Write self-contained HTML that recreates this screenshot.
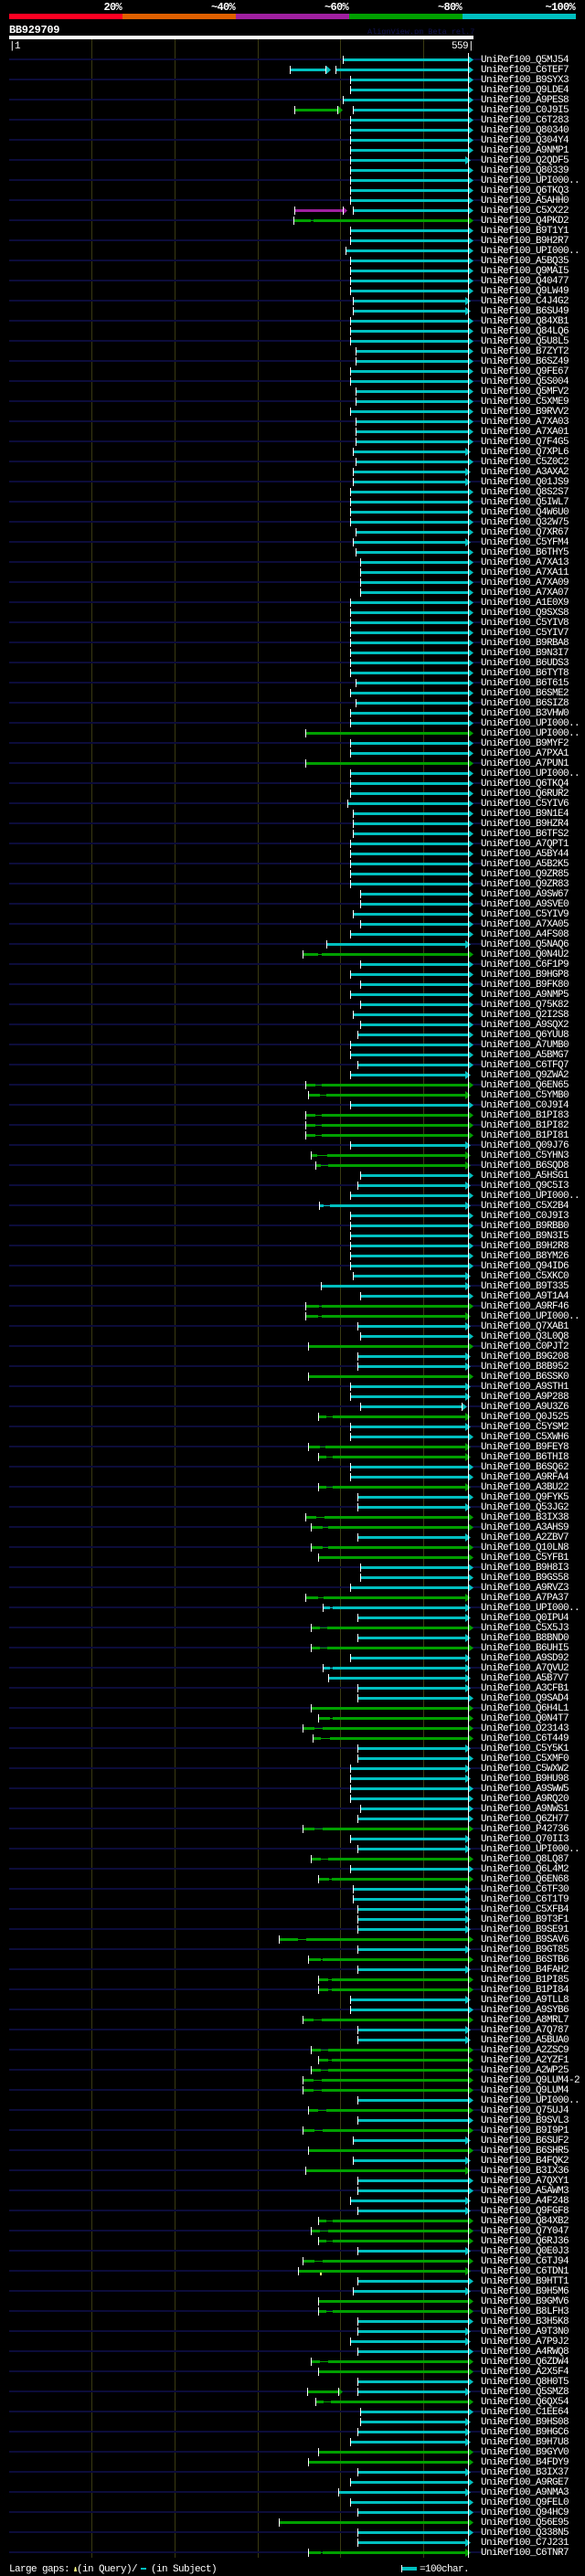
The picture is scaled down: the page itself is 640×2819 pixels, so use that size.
<!DOCTYPE html>
<html><head><meta charset="utf-8">
<style>
html,body{margin:0;padding:0;background:#000;width:640px;height:2819px;overflow:hidden}
#bg,#fg{position:absolute;left:0;top:0}
#rows{position:absolute;left:0;top:60px;width:640px}
#rows svg{display:block;width:640px;height:11px;overflow:visible}
text{font-family:"Liberation Mono","DejaVu Sans Mono",monospace;fill:#fff}
#rows text,.s{font-size:11px;letter-spacing:-0.6px}
path{fill:none}
.c{stroke:#00c0c0;stroke-width:3}
.g{stroke:#00a000;stroke-width:3}
.p{stroke:#a020a0;stroke-width:3}
.c1{stroke:#00c0c0;stroke-width:1}
.g1{stroke:#00a000;stroke-width:1}
.b{font-size:12px;font-weight:bold;letter-spacing:-0.7px}
</style></head><body>
<svg width="0" height="0" style="position:absolute;left:0;top:0"><defs>
<rect id="n" x="10" y="4" width="517" height="2" fill="#0c0c3a"/>
<rect id="t" x="0" y="1" width="1" height="9" fill="#fff"/>
<polygon id="a" points="512,1 518,5.5 512,10" fill="#00c0c0"/>
<polygon id="as" points="509,1 515,5.5 509,10" fill="#00c0c0"/>
<polygon id="b" points="512,1 518,5.5 512,10" fill="#00a000"/>
<polygon id="bs" points="509,1 515,5.5 509,10" fill="#00a000"/>
</defs></svg>

<svg id="bg" width="640" height="2819">
<text class="b" x="133" y="11" text-anchor="end">20%</text>
<text class="b" x="257" y="11" text-anchor="end">~40%</text>
<text class="b" x="381" y="11" text-anchor="end">~60%</text>
<text class="b" x="505" y="11" text-anchor="end">~80%</text>
<text class="b" x="629" y="11" text-anchor="end">~100%</text>
<rect x="10" y="15" width="124" height="6" fill="#ff0022"/>
<rect x="134" y="15" width="124" height="6" fill="#e06000"/>
<rect x="258" y="15" width="124" height="6" fill="#a020a0"/>
<rect x="382" y="15" width="124" height="6" fill="#00a000"/>
<rect x="506" y="15" width="124" height="6" fill="#00c0c0"/>
<text x="10" y="36" style="font-size:12px;font-weight:bold;letter-spacing:-0.3px">BB929709</text>
<text x="402" y="37" style="font-size:8.5px;fill:#121250">AlignView.pm Beta rel.7</text>
<rect x="10" y="39" width="508" height="4" fill="#fff"/>
<text class="s" x="10" y="53">|1</text>
<text class="s" x="494" y="53">559|</text>
<g fill="#3a3a12">
<rect x="100" y="43" width="1" height="2756"/>
<rect x="191" y="43" width="1" height="2756"/>
<rect x="282" y="43" width="1" height="2756"/>
<rect x="372" y="43" width="1" height="2756"/>
<rect x="463" y="43" width="1" height="2756"/>
</g>
<text class="s" x="10" y="2814">Large gaps:</text>
<polygon points="81,2814 82,2809 83,2809 84,2814" fill="#ffff80"/>
<text class="s" x="84" y="2814">(in Query)/</text>
<rect x="154" y="2810" width="6" height="2" fill="#00c0c0"/>
<text class="s" x="165" y="2814">(in Subject)</text>
<rect x="439" y="2809" width="17" height="4" fill="#00c0c0"/>
<rect x="439" y="2807" width="1" height="8" fill="#fff"/>
<text class="s" x="459" y="2814">=100char.</text>
</svg>

<div id="rows">
<svg><use href="#n"/><path class="c" d="M375 5.5H513"/><use href="#t" x="375"/><use href="#a"/><text x="526" y="8">UniRef100_Q5MJ54</text></svg>
<svg><path class="c" d="M317 5.5H357M367 5.5H513"/><polygon points="357,1 362,5.5 357,10" fill="#00c0c0"/><use href="#t" x="317"/><use href="#t" x="356"/><use href="#t" x="367"/><use href="#a"/><text x="526" y="8">UniRef100_C6TEF7</text></svg>
<svg><use href="#n"/><path class="c" d="M383 5.5H513"/><use href="#t" x="383"/><use href="#a"/><text x="526" y="8">UniRef100_B9SYX3</text></svg>
<svg><path class="c" d="M383 5.5H513"/><use href="#t" x="383"/><use href="#a"/><text x="526" y="8">UniRef100_Q9LDE4</text></svg>
<svg><use href="#n"/><path class="c" d="M375 5.5H513"/><use href="#t" x="375"/><use href="#a"/><text x="526" y="8">UniRef100_A9PES8</text></svg>
<svg><path class="g" d="M322 5.5H370"/><path class="c" d="M386 5.5H513"/><polygon points="370,1 375,5.5 370,10" fill="#00a000"/><use href="#t" x="322"/><use href="#t" x="369"/><use href="#t" x="386"/><use href="#a"/><text x="526" y="8">UniRef100_C0J9I5</text></svg>
<svg><use href="#n"/><path class="c" d="M383 5.5H513"/><use href="#t" x="383"/><use href="#a"/><text x="526" y="8">UniRef100_C6T283</text></svg>
<svg><path class="c" d="M383 5.5H513"/><use href="#t" x="383"/><use href="#a"/><text x="526" y="8">UniRef100_Q80340</text></svg>
<svg><use href="#n"/><path class="c" d="M383 5.5H513"/><use href="#t" x="383"/><use href="#a"/><text x="526" y="8">UniRef100_Q304Y4</text></svg>
<svg><path class="c" d="M383 5.5H513"/><use href="#t" x="383"/><use href="#a"/><text x="526" y="8">UniRef100_A9NMP1</text></svg>
<svg><use href="#n"/><path class="c" d="M383 5.5H510"/><use href="#t" x="383"/><use href="#as"/><text x="526" y="8">UniRef100_Q2QDF5</text></svg>
<svg><path class="c" d="M383 5.5H513"/><use href="#t" x="383"/><use href="#a"/><text x="526" y="8">UniRef100_Q80339</text></svg>
<svg><use href="#n"/><path class="c" d="M383 5.5H513"/><use href="#t" x="383"/><use href="#a"/><text x="526" y="8">UniRef100_UPI000..</text></svg>
<svg><path class="c" d="M383 5.5H513"/><use href="#t" x="383"/><use href="#a"/><text x="526" y="8">UniRef100_Q6TKQ3</text></svg>
<svg><use href="#n"/><path class="c" d="M383 5.5H513"/><use href="#t" x="383"/><use href="#a"/><text x="526" y="8">UniRef100_A5AHH0</text></svg>
<svg><path class="p" d="M322 5.5H375"/><path class="c" d="M386 5.5H513"/><polygon points="375,1 380,5.5 375,10" fill="#a020a0"/><use href="#t" x="322"/><use href="#t" x="375"/><use href="#t" x="386"/><use href="#a"/><text x="526" y="8">UniRef100_C5XX22</text></svg>
<svg><use href="#n"/><path class="g" d="M321 5.5H340M343 5.5H513"/><path class="g1" d="M340 5.5H343"/><use href="#t" x="321"/><use href="#b"/><text x="526" y="8">UniRef100_Q4PKD2</text></svg>
<svg><path class="c" d="M383 5.5H513"/><use href="#t" x="383"/><use href="#a"/><text x="526" y="8">UniRef100_B9T1Y1</text></svg>
<svg><use href="#n"/><path class="c" d="M383 5.5H513"/><use href="#t" x="383"/><use href="#a"/><text x="526" y="8">UniRef100_B9H2R7</text></svg>
<svg><path class="c" d="M378 5.5H513"/><use href="#t" x="378"/><use href="#a"/><text x="526" y="8">UniRef100_UPI000..</text></svg>
<svg><use href="#n"/><path class="c" d="M383 5.5H513"/><use href="#t" x="383"/><use href="#a"/><text x="526" y="8">UniRef100_A5BQ35</text></svg>
<svg><path class="c" d="M383 5.5H513"/><use href="#t" x="383"/><use href="#a"/><text x="526" y="8">UniRef100_Q9MAI5</text></svg>
<svg><use href="#n"/><path class="c" d="M383 5.5H513"/><use href="#t" x="383"/><use href="#a"/><text x="526" y="8">UniRef100_Q40477</text></svg>
<svg><path class="c" d="M383 5.5H513"/><use href="#t" x="383"/><use href="#a"/><text x="526" y="8">UniRef100_Q9LW49</text></svg>
<svg><use href="#n"/><path class="c" d="M386 5.5H510"/><use href="#t" x="386"/><use href="#as"/><text x="526" y="8">UniRef100_C4J4G2</text></svg>
<svg><path class="c" d="M386 5.5H510"/><use href="#t" x="386"/><use href="#as"/><text x="526" y="8">UniRef100_B6SU49</text></svg>
<svg><use href="#n"/><path class="c" d="M383 5.5H513"/><use href="#t" x="383"/><use href="#a"/><text x="526" y="8">UniRef100_Q84XB1</text></svg>
<svg><path class="c" d="M383 5.5H513"/><use href="#t" x="383"/><use href="#a"/><text x="526" y="8">UniRef100_Q84LQ6</text></svg>
<svg><use href="#n"/><path class="c" d="M383 5.5H513"/><use href="#t" x="383"/><use href="#a"/><text x="526" y="8">UniRef100_Q5U8L5</text></svg>
<svg><path class="c" d="M389 5.5H513"/><use href="#t" x="389"/><use href="#a"/><text x="526" y="8">UniRef100_B7ZYT2</text></svg>
<svg><use href="#n"/><path class="c" d="M389 5.5H513"/><use href="#t" x="389"/><use href="#a"/><text x="526" y="8">UniRef100_B6SZ49</text></svg>
<svg><path class="c" d="M383 5.5H513"/><use href="#t" x="383"/><use href="#a"/><text x="526" y="8">UniRef100_Q9FE67</text></svg>
<svg><use href="#n"/><path class="c" d="M383 5.5H513"/><use href="#t" x="383"/><use href="#a"/><text x="526" y="8">UniRef100_Q5S004</text></svg>
<svg><path class="c" d="M389 5.5H513"/><use href="#t" x="389"/><use href="#a"/><text x="526" y="8">UniRef100_Q5MFV2</text></svg>
<svg><use href="#n"/><path class="c" d="M389 5.5H513"/><use href="#t" x="389"/><use href="#a"/><text x="526" y="8">UniRef100_C5XME9</text></svg>
<svg><path class="c" d="M383 5.5H513"/><use href="#t" x="383"/><use href="#a"/><text x="526" y="8">UniRef100_B9RVV2</text></svg>
<svg><use href="#n"/><path class="c" d="M389 5.5H513"/><use href="#t" x="389"/><use href="#a"/><text x="526" y="8">UniRef100_A7XA03</text></svg>
<svg><path class="c" d="M389 5.5H513"/><use href="#t" x="389"/><use href="#a"/><text x="526" y="8">UniRef100_A7XA01</text></svg>
<svg><use href="#n"/><path class="c" d="M389 5.5H513"/><use href="#t" x="389"/><use href="#a"/><text x="526" y="8">UniRef100_Q7F4G5</text></svg>
<svg><path class="c" d="M386 5.5H510"/><use href="#t" x="386"/><use href="#as"/><text x="526" y="8">UniRef100_Q7XPL6</text></svg>
<svg><use href="#n"/><path class="c" d="M389 5.5H513"/><use href="#t" x="389"/><use href="#a"/><text x="526" y="8">UniRef100_C5Z0C2</text></svg>
<svg><path class="c" d="M386 5.5H510"/><use href="#t" x="386"/><use href="#as"/><text x="526" y="8">UniRef100_A3AXA2</text></svg>
<svg><use href="#n"/><path class="c" d="M386 5.5H510"/><use href="#t" x="386"/><use href="#as"/><text x="526" y="8">UniRef100_Q01JS9</text></svg>
<svg><path class="c" d="M383 5.5H513"/><use href="#t" x="383"/><use href="#a"/><text x="526" y="8">UniRef100_Q8S2S7</text></svg>
<svg><use href="#n"/><path class="c" d="M383 5.5H513"/><use href="#t" x="383"/><use href="#a"/><text x="526" y="8">UniRef100_Q5IWL7</text></svg>
<svg><path class="c" d="M383 5.5H513"/><use href="#t" x="383"/><use href="#a"/><text x="526" y="8">UniRef100_Q4W6U0</text></svg>
<svg><use href="#n"/><path class="c" d="M383 5.5H513"/><use href="#t" x="383"/><use href="#a"/><text x="526" y="8">UniRef100_Q32W75</text></svg>
<svg><path class="c" d="M389 5.5H513"/><use href="#t" x="389"/><use href="#a"/><text x="526" y="8">UniRef100_Q7XR67</text></svg>
<svg><use href="#n"/><path class="c" d="M386 5.5H510"/><use href="#t" x="386"/><use href="#as"/><text x="526" y="8">UniRef100_C5YFM4</text></svg>
<svg><path class="c" d="M389 5.5H513"/><use href="#t" x="389"/><use href="#a"/><text x="526" y="8">UniRef100_B6THY5</text></svg>
<svg><use href="#n"/><path class="c" d="M394 5.5H513"/><use href="#t" x="394"/><use href="#a"/><text x="526" y="8">UniRef100_A7XA13</text></svg>
<svg><path class="c" d="M394 5.5H513"/><use href="#t" x="394"/><use href="#a"/><text x="526" y="8">UniRef100_A7XA11</text></svg>
<svg><use href="#n"/><path class="c" d="M394 5.5H513"/><use href="#t" x="394"/><use href="#a"/><text x="526" y="8">UniRef100_A7XA09</text></svg>
<svg><path class="c" d="M394 5.5H513"/><use href="#t" x="394"/><use href="#a"/><text x="526" y="8">UniRef100_A7XA07</text></svg>
<svg><use href="#n"/><path class="c" d="M383 5.5H513"/><use href="#t" x="383"/><use href="#a"/><text x="526" y="8">UniRef100_A1E0X9</text></svg>
<svg><path class="c" d="M383 5.5H513"/><use href="#t" x="383"/><use href="#a"/><text x="526" y="8">UniRef100_Q9SXS8</text></svg>
<svg><use href="#n"/><path class="c" d="M383 5.5H513"/><use href="#t" x="383"/><use href="#a"/><text x="526" y="8">UniRef100_C5YIV8</text></svg>
<svg><path class="c" d="M383 5.5H513"/><use href="#t" x="383"/><use href="#a"/><text x="526" y="8">UniRef100_C5YIV7</text></svg>
<svg><use href="#n"/><path class="c" d="M383 5.5H513"/><use href="#t" x="383"/><use href="#a"/><text x="526" y="8">UniRef100_B9RBA8</text></svg>
<svg><path class="c" d="M383 5.5H513"/><use href="#t" x="383"/><use href="#a"/><text x="526" y="8">UniRef100_B9N3I7</text></svg>
<svg><use href="#n"/><path class="c" d="M383 5.5H513"/><use href="#t" x="383"/><use href="#a"/><text x="526" y="8">UniRef100_B6UDS3</text></svg>
<svg><path class="c" d="M383 5.5H513"/><use href="#t" x="383"/><use href="#a"/><text x="526" y="8">UniRef100_B6TYT8</text></svg>
<svg><use href="#n"/><path class="c" d="M389 5.5H513"/><use href="#t" x="389"/><use href="#a"/><text x="526" y="8">UniRef100_B6T615</text></svg>
<svg><path class="c" d="M383 5.5H513"/><use href="#t" x="383"/><use href="#a"/><text x="526" y="8">UniRef100_B6SME2</text></svg>
<svg><use href="#n"/><path class="c" d="M389 5.5H513"/><use href="#t" x="389"/><use href="#a"/><text x="526" y="8">UniRef100_B6SIZ8</text></svg>
<svg><path class="c" d="M383 5.5H513"/><use href="#t" x="383"/><use href="#a"/><text x="526" y="8">UniRef100_B3VHW0</text></svg>
<svg><use href="#n"/><path class="c" d="M383 5.5H513"/><use href="#t" x="383"/><use href="#a"/><text x="526" y="8">UniRef100_UPI000..</text></svg>
<svg><path class="g" d="M334 5.5H513"/><use href="#t" x="334"/><use href="#b"/><text x="526" y="8">UniRef100_UPI000..</text></svg>
<svg><use href="#n"/><path class="c" d="M383 5.5H513"/><use href="#t" x="383"/><use href="#a"/><text x="526" y="8">UniRef100_B9MYF2</text></svg>
<svg><path class="c" d="M383 5.5H513"/><use href="#t" x="383"/><use href="#a"/><text x="526" y="8">UniRef100_A7PXA1</text></svg>
<svg><use href="#n"/><path class="g" d="M334 5.5H513"/><use href="#t" x="334"/><use href="#b"/><text x="526" y="8">UniRef100_A7PUN1</text></svg>
<svg><path class="c" d="M383 5.5H513"/><use href="#t" x="383"/><use href="#a"/><text x="526" y="8">UniRef100_UPI000..</text></svg>
<svg><use href="#n"/><path class="c" d="M383 5.5H513"/><use href="#t" x="383"/><use href="#a"/><text x="526" y="8">UniRef100_Q6TKQ4</text></svg>
<svg><path class="c" d="M383 5.5H513"/><use href="#t" x="383"/><use href="#a"/><text x="526" y="8">UniRef100_Q6RUR2</text></svg>
<svg><use href="#n"/><path class="c" d="M380 5.5H513"/><use href="#t" x="380"/><use href="#a"/><text x="526" y="8">UniRef100_C5YIV6</text></svg>
<svg><path class="c" d="M386 5.5H513"/><use href="#t" x="386"/><use href="#a"/><text x="526" y="8">UniRef100_B9N1E4</text></svg>
<svg><use href="#n"/><path class="c" d="M386 5.5H513"/><use href="#t" x="386"/><use href="#a"/><text x="526" y="8">UniRef100_B9HZR4</text></svg>
<svg><path class="c" d="M386 5.5H513"/><use href="#t" x="386"/><use href="#a"/><text x="526" y="8">UniRef100_B6TFS2</text></svg>
<svg><use href="#n"/><path class="c" d="M383 5.5H513"/><use href="#t" x="383"/><use href="#a"/><text x="526" y="8">UniRef100_A7QPT1</text></svg>
<svg><path class="c" d="M383 5.5H513"/><use href="#t" x="383"/><use href="#a"/><text x="526" y="8">UniRef100_A5BY44</text></svg>
<svg><use href="#n"/><path class="c" d="M383 5.5H513"/><use href="#t" x="383"/><use href="#a"/><text x="526" y="8">UniRef100_A5B2K5</text></svg>
<svg><path class="c" d="M383 5.5H513"/><use href="#t" x="383"/><use href="#a"/><text x="526" y="8">UniRef100_Q9ZR85</text></svg>
<svg><use href="#n"/><path class="c" d="M383 5.5H513"/><use href="#t" x="383"/><use href="#a"/><text x="526" y="8">UniRef100_Q9ZR83</text></svg>
<svg><path class="c" d="M394 5.5H513"/><use href="#t" x="394"/><use href="#a"/><text x="526" y="8">UniRef100_A9SW67</text></svg>
<svg><use href="#n"/><path class="c" d="M394 5.5H513"/><use href="#t" x="394"/><use href="#a"/><text x="526" y="8">UniRef100_A9SVE0</text></svg>
<svg><path class="c" d="M386 5.5H513"/><use href="#t" x="386"/><use href="#a"/><text x="526" y="8">UniRef100_C5YIV9</text></svg>
<svg><use href="#n"/><path class="c" d="M394 5.5H513"/><use href="#t" x="394"/><use href="#a"/><text x="526" y="8">UniRef100_A7XA05</text></svg>
<svg><path class="c" d="M383 5.5H513"/><use href="#t" x="383"/><use href="#a"/><text x="526" y="8">UniRef100_A4FS08</text></svg>
<svg><use href="#n"/><path class="c" d="M357 5.5H510"/><use href="#t" x="357"/><use href="#as"/><text x="526" y="8">UniRef100_Q5NAQ6</text></svg>
<svg><path class="g" d="M331 5.5H348M352 5.5H513"/><path class="g1" d="M348 5.5H352"/><use href="#t" x="331"/><use href="#b"/><text x="526" y="8">UniRef100_Q0N4U2</text></svg>
<svg><use href="#n"/><path class="c" d="M394 5.5H513"/><use href="#t" x="394"/><use href="#a"/><text x="526" y="8">UniRef100_C6F1P9</text></svg>
<svg><path class="c" d="M383 5.5H513"/><use href="#t" x="383"/><use href="#a"/><text x="526" y="8">UniRef100_B9HGP8</text></svg>
<svg><use href="#n"/><path class="c" d="M394 5.5H513"/><use href="#t" x="394"/><use href="#a"/><text x="526" y="8">UniRef100_B9FK80</text></svg>
<svg><path class="c" d="M383 5.5H513"/><use href="#t" x="383"/><use href="#a"/><text x="526" y="8">UniRef100_A9NMP5</text></svg>
<svg><use href="#n"/><path class="c" d="M394 5.5H513"/><use href="#t" x="394"/><use href="#a"/><text x="526" y="8">UniRef100_Q75K82</text></svg>
<svg><path class="c" d="M386 5.5H513"/><use href="#t" x="386"/><use href="#a"/><text x="526" y="8">UniRef100_Q2I2S8</text></svg>
<svg><use href="#n"/><path class="c" d="M394 5.5H513"/><use href="#t" x="394"/><use href="#a"/><text x="526" y="8">UniRef100_A9SQX2</text></svg>
<svg><path class="c" d="M391 5.5H513"/><use href="#t" x="391"/><use href="#a"/><text x="526" y="8">UniRef100_Q6YUU8</text></svg>
<svg><use href="#n"/><path class="c" d="M383 5.5H513"/><use href="#t" x="383"/><use href="#a"/><text x="526" y="8">UniRef100_A7UMB0</text></svg>
<svg><path class="c" d="M383 5.5H513"/><use href="#t" x="383"/><use href="#a"/><text x="526" y="8">UniRef100_A5BMG7</text></svg>
<svg><use href="#n"/><path class="c" d="M391 5.5H513"/><use href="#t" x="391"/><use href="#a"/><text x="526" y="8">UniRef100_C6TFQ7</text></svg>
<svg><path class="c" d="M383 5.5H510"/><use href="#t" x="383"/><use href="#as"/><text x="526" y="8">UniRef100_Q9ZWA2</text></svg>
<svg><use href="#n"/><path class="g" d="M334 5.5H345M352 5.5H513"/><path class="g1" d="M345 5.5H352"/><use href="#t" x="334"/><use href="#b"/><text x="526" y="8">UniRef100_Q6EN65</text></svg>
<svg><path class="g" d="M337 5.5H350M357 5.5H510"/><path class="g1" d="M350 5.5H357"/><use href="#t" x="337"/><use href="#bs"/><text x="526" y="8">UniRef100_C5YMB0</text></svg>
<svg><use href="#n"/><path class="c" d="M383 5.5H513"/><use href="#t" x="383"/><use href="#a"/><text x="526" y="8">UniRef100_C0J9I4</text></svg>
<svg><path class="g" d="M334 5.5H345M352 5.5H513"/><path class="g1" d="M345 5.5H352"/><use href="#t" x="334"/><use href="#b"/><text x="526" y="8">UniRef100_B1PI83</text></svg>
<svg><use href="#n"/><path class="g" d="M334 5.5H345M352 5.5H513"/><path class="g1" d="M345 5.5H352"/><use href="#t" x="334"/><use href="#b"/><text x="526" y="8">UniRef100_B1PI82</text></svg>
<svg><path class="g" d="M334 5.5H345M352 5.5H513"/><path class="g1" d="M345 5.5H352"/><use href="#t" x="334"/><use href="#b"/><text x="526" y="8">UniRef100_B1PI81</text></svg>
<svg><use href="#n"/><path class="c" d="M383 5.5H510"/><use href="#t" x="383"/><use href="#as"/><text x="526" y="8">UniRef100_Q09J76</text></svg>
<svg><path class="g" d="M340 5.5H347M358 5.5H510"/><path class="g1" d="M347 5.5H358"/><use href="#t" x="340"/><use href="#bs"/><text x="526" y="8">UniRef100_C5YHN3</text></svg>
<svg><use href="#n"/><path class="g" d="M345 5.5H351M359 5.5H510"/><path class="g1" d="M351 5.5H359"/><use href="#t" x="345"/><use href="#bs"/><text x="526" y="8">UniRef100_B6SQD8</text></svg>
<svg><path class="c" d="M394 5.5H513"/><use href="#t" x="394"/><use href="#a"/><text x="526" y="8">UniRef100_A5HSG1</text></svg>
<svg><use href="#n"/><path class="c" d="M391 5.5H510"/><use href="#t" x="391"/><use href="#as"/><text x="526" y="8">UniRef100_Q9C5I3</text></svg>
<svg><path class="c" d="M383 5.5H513"/><use href="#t" x="383"/><use href="#a"/><text x="526" y="8">UniRef100_UPI000..</text></svg>
<svg><use href="#n"/><path class="c" d="M349 5.5H354M361 5.5H510"/><path class="c1" d="M354 5.5H361"/><use href="#t" x="349"/><use href="#as"/><text x="526" y="8">UniRef100_C5X2B4</text></svg>
<svg><path class="c" d="M383 5.5H513"/><use href="#t" x="383"/><use href="#a"/><text x="526" y="8">UniRef100_C0J9I3</text></svg>
<svg><use href="#n"/><path class="c" d="M383 5.5H513"/><use href="#t" x="383"/><use href="#a"/><text x="526" y="8">UniRef100_B9RBB0</text></svg>
<svg><path class="c" d="M383 5.5H513"/><use href="#t" x="383"/><use href="#a"/><text x="526" y="8">UniRef100_B9N3I5</text></svg>
<svg><use href="#n"/><path class="c" d="M383 5.5H513"/><use href="#t" x="383"/><use href="#a"/><text x="526" y="8">UniRef100_B9H2R8</text></svg>
<svg><path class="c" d="M383 5.5H513"/><use href="#t" x="383"/><use href="#a"/><text x="526" y="8">UniRef100_B8YM26</text></svg>
<svg><use href="#n"/><path class="c" d="M383 5.5H513"/><use href="#t" x="383"/><use href="#a"/><text x="526" y="8">UniRef100_Q94ID6</text></svg>
<svg><path class="c" d="M386 5.5H510"/><use href="#t" x="386"/><use href="#as"/><text x="526" y="8">UniRef100_C5XKC0</text></svg>
<svg><use href="#n"/><path class="c" d="M351 5.5H510"/><use href="#t" x="351"/><use href="#as"/><text x="526" y="8">UniRef100_B9T335</text></svg>
<svg><path class="c" d="M394 5.5H513"/><use href="#t" x="394"/><use href="#a"/><text x="526" y="8">UniRef100_A9T1A4</text></svg>
<svg><use href="#n"/><path class="g" d="M334 5.5H349M352 5.5H513"/><path class="g1" d="M349 5.5H352"/><use href="#t" x="334"/><use href="#b"/><text x="526" y="8">UniRef100_A9RF46</text></svg>
<svg><path class="g" d="M334 5.5H348M352 5.5H510"/><path class="g1" d="M348 5.5H352"/><use href="#t" x="334"/><use href="#bs"/><text x="526" y="8">UniRef100_UPI000..</text></svg>
<svg><use href="#n"/><path class="c" d="M391 5.5H510"/><use href="#t" x="391"/><use href="#as"/><text x="526" y="8">UniRef100_Q7XAB1</text></svg>
<svg><path class="c" d="M394 5.5H513"/><use href="#t" x="394"/><use href="#a"/><text x="526" y="8">UniRef100_Q3L0Q8</text></svg>
<svg><use href="#n"/><path class="g" d="M337 5.5H513"/><use href="#t" x="337"/><use href="#b"/><text x="526" y="8">UniRef100_C0PJT2</text></svg>
<svg><path class="c" d="M391 5.5H510"/><use href="#t" x="391"/><use href="#as"/><text x="526" y="8">UniRef100_B9G208</text></svg>
<svg><use href="#n"/><path class="c" d="M391 5.5H510"/><use href="#t" x="391"/><use href="#as"/><text x="526" y="8">UniRef100_B8B952</text></svg>
<svg><path class="g" d="M337 5.5H513"/><use href="#t" x="337"/><use href="#b"/><text x="526" y="8">UniRef100_B6SSK0</text></svg>
<svg><use href="#n"/><path class="c" d="M383 5.5H510"/><use href="#t" x="383"/><use href="#as"/><text x="526" y="8">UniRef100_A9STH1</text></svg>
<svg><path class="c" d="M383 5.5H510"/><use href="#t" x="383"/><use href="#as"/><text x="526" y="8">UniRef100_A9P288</text></svg>
<svg><use href="#n"/><path class="c" d="M394 5.5H505"/><use href="#t" x="394"/><polygon points="505,1 511,5.5 505,10" fill="#00c0c0"/><use href="#t" x="505"/><text x="526" y="8">UniRef100_A9U3Z6</text></svg>
<svg><path class="g" d="M348 5.5H357M364 5.5H510"/><path class="g1" d="M357 5.5H364"/><use href="#t" x="348"/><use href="#bs"/><text x="526" y="8">UniRef100_Q0J525</text></svg>
<svg><use href="#n"/><path class="c" d="M383 5.5H510"/><use href="#t" x="383"/><use href="#as"/><text x="526" y="8">UniRef100_C5YSM2</text></svg>
<svg><path class="c" d="M383 5.5H513"/><use href="#t" x="383"/><use href="#a"/><text x="526" y="8">UniRef100_C5XWH6</text></svg>
<svg><use href="#n"/><path class="g" d="M337 5.5H350M356 5.5H510"/><path class="g1" d="M350 5.5H356"/><use href="#t" x="337"/><use href="#bs"/><text x="526" y="8">UniRef100_B9FEY8</text></svg>
<svg><path class="g" d="M348 5.5H357M364 5.5H510"/><path class="g1" d="M357 5.5H364"/><use href="#t" x="348"/><use href="#bs"/><text x="526" y="8">UniRef100_B6THI8</text></svg>
<svg><use href="#n"/><path class="c" d="M383 5.5H513"/><use href="#t" x="383"/><use href="#a"/><text x="526" y="8">UniRef100_B6SQ62</text></svg>
<svg><path class="c" d="M383 5.5H513"/><use href="#t" x="383"/><use href="#a"/><text x="526" y="8">UniRef100_A9RFA4</text></svg>
<svg><use href="#n"/><path class="g" d="M348 5.5H357M364 5.5H510"/><path class="g1" d="M357 5.5H364"/><use href="#t" x="348"/><use href="#bs"/><text x="526" y="8">UniRef100_A3BU22</text></svg>
<svg><path class="c" d="M391 5.5H513"/><use href="#t" x="391"/><use href="#a"/><text x="526" y="8">UniRef100_Q9FYK5</text></svg>
<svg><use href="#n"/><path class="c" d="M391 5.5H510"/><use href="#t" x="391"/><use href="#as"/><text x="526" y="8">UniRef100_Q53JG2</text></svg>
<svg><path class="g" d="M334 5.5H346M355 5.5H513"/><path class="g1" d="M346 5.5H355"/><use href="#t" x="334"/><use href="#b"/><text x="526" y="8">UniRef100_B3IX38</text></svg>
<svg><use href="#n"/><path class="g" d="M340 5.5H353M359 5.5H513"/><path class="g1" d="M353 5.5H359"/><use href="#t" x="340"/><use href="#b"/><text x="526" y="8">UniRef100_A3AHS9</text></svg>
<svg><path class="c" d="M391 5.5H510"/><use href="#t" x="391"/><use href="#as"/><text x="526" y="8">UniRef100_A2ZBV7</text></svg>
<svg><use href="#n"/><path class="g" d="M340 5.5H353M359 5.5H513"/><path class="g1" d="M353 5.5H359"/><use href="#t" x="340"/><use href="#b"/><text x="526" y="8">UniRef100_Q10LN8</text></svg>
<svg><path class="g" d="M348 5.5H513"/><use href="#t" x="348"/><use href="#b"/><text x="526" y="8">UniRef100_C5YFB1</text></svg>
<svg><use href="#n"/><path class="c" d="M394 5.5H513"/><use href="#t" x="394"/><use href="#a"/><text x="526" y="8">UniRef100_B9H8I3</text></svg>
<svg><path class="c" d="M394 5.5H513"/><use href="#t" x="394"/><use href="#a"/><text x="526" y="8">UniRef100_B9GS58</text></svg>
<svg><use href="#n"/><path class="c" d="M383 5.5H513"/><use href="#t" x="383"/><use href="#a"/><text x="526" y="8">UniRef100_A9RVZ3</text></svg>
<svg><path class="g" d="M334 5.5H348M354 5.5H510"/><path class="g1" d="M348 5.5H354"/><use href="#t" x="334"/><use href="#bs"/><text x="526" y="8">UniRef100_A7PA37</text></svg>
<svg><use href="#n"/><path class="c" d="M353 5.5H361M364 5.5H510"/><path class="c1" d="M361 5.5H364"/><use href="#t" x="353"/><use href="#as"/><text x="526" y="8">UniRef100_UPI000..</text></svg>
<svg><path class="c" d="M391 5.5H510"/><use href="#t" x="391"/><use href="#as"/><text x="526" y="8">UniRef100_Q0IPU4</text></svg>
<svg><use href="#n"/><path class="g" d="M340 5.5H350M358 5.5H513"/><path class="g1" d="M350 5.5H358"/><use href="#t" x="340"/><use href="#b"/><text x="526" y="8">UniRef100_C5X5J3</text></svg>
<svg><path class="c" d="M391 5.5H510"/><use href="#t" x="391"/><use href="#as"/><text x="526" y="8">UniRef100_B8BND0</text></svg>
<svg><use href="#n"/><path class="g" d="M340 5.5H350M358 5.5H513"/><path class="g1" d="M350 5.5H358"/><use href="#t" x="340"/><use href="#b"/><text x="526" y="8">UniRef100_B6UHI5</text></svg>
<svg><path class="c" d="M383 5.5H510"/><use href="#t" x="383"/><use href="#as"/><text x="526" y="8">UniRef100_A9SD92</text></svg>
<svg><use href="#n"/><path class="c" d="M353 5.5H361M364 5.5H510"/><path class="c1" d="M361 5.5H364"/><use href="#t" x="353"/><use href="#as"/><text x="526" y="8">UniRef100_A7QVU2</text></svg>
<svg><path class="c" d="M359 5.5H510"/><use href="#t" x="359"/><use href="#as"/><text x="526" y="8">UniRef100_A5B7V7</text></svg>
<svg><use href="#n"/><path class="c" d="M391 5.5H510"/><use href="#t" x="391"/><use href="#as"/><text x="526" y="8">UniRef100_A3CFB1</text></svg>
<svg><path class="c" d="M391 5.5H513"/><use href="#t" x="391"/><use href="#a"/><text x="526" y="8">UniRef100_Q9SAD4</text></svg>
<svg><use href="#n"/><path class="g" d="M340 5.5H513"/><use href="#t" x="340"/><use href="#b"/><text x="526" y="8">UniRef100_Q6H4L1</text></svg>
<svg><path class="g" d="M348 5.5H361M364 5.5H513"/><path class="g1" d="M361 5.5H364"/><use href="#t" x="348"/><use href="#b"/><text x="526" y="8">UniRef100_Q0N4T7</text></svg>
<svg><use href="#n"/><path class="g" d="M331 5.5H344M353 5.5H513"/><path class="g1" d="M344 5.5H353"/><use href="#t" x="331"/><use href="#b"/><text x="526" y="8">UniRef100_O23143</text></svg>
<svg><path class="g" d="M342 5.5H351M361 5.5H513"/><path class="g1" d="M351 5.5H361"/><use href="#t" x="342"/><use href="#b"/><text x="526" y="8">UniRef100_C6T449</text></svg>
<svg><use href="#n"/><path class="c" d="M391 5.5H510"/><use href="#t" x="391"/><use href="#as"/><text x="526" y="8">UniRef100_C5Y5K1</text></svg>
<svg><path class="c" d="M391 5.5H513"/><use href="#t" x="391"/><use href="#a"/><text x="526" y="8">UniRef100_C5XMF0</text></svg>
<svg><use href="#n"/><path class="c" d="M383 5.5H510"/><use href="#t" x="383"/><use href="#as"/><text x="526" y="8">UniRef100_C5WXW2</text></svg>
<svg><path class="c" d="M383 5.5H510"/><use href="#t" x="383"/><use href="#as"/><text x="526" y="8">UniRef100_B9HU98</text></svg>
<svg><use href="#n"/><path class="c" d="M383 5.5H513"/><use href="#t" x="383"/><use href="#a"/><text x="526" y="8">UniRef100_A9SWW5</text></svg>
<svg><path class="c" d="M383 5.5H513"/><use href="#t" x="383"/><use href="#a"/><text x="526" y="8">UniRef100_A9RQ20</text></svg>
<svg><use href="#n"/><path class="c" d="M394 5.5H513"/><use href="#t" x="394"/><use href="#a"/><text x="526" y="8">UniRef100_A9NWS1</text></svg>
<svg><path class="c" d="M391 5.5H513"/><use href="#t" x="391"/><use href="#a"/><text x="526" y="8">UniRef100_Q6ZH77</text></svg>
<svg><use href="#n"/><path class="g" d="M331 5.5H344M353 5.5H513"/><path class="g1" d="M344 5.5H353"/><use href="#t" x="331"/><use href="#b"/><text x="526" y="8">UniRef100_P42736</text></svg>
<svg><path class="c" d="M383 5.5H510"/><use href="#t" x="383"/><use href="#as"/><text x="526" y="8">UniRef100_Q70II3</text></svg>
<svg><use href="#n"/><path class="c" d="M391 5.5H510"/><use href="#t" x="391"/><use href="#as"/><text x="526" y="8">UniRef100_UPI000..</text></svg>
<svg><path class="g" d="M340 5.5H351M359 5.5H513"/><path class="g1" d="M351 5.5H359"/><use href="#t" x="340"/><use href="#b"/><text x="526" y="8">UniRef100_Q8LQ87</text></svg>
<svg><use href="#n"/><path class="c" d="M383 5.5H513"/><use href="#t" x="383"/><use href="#a"/><text x="526" y="8">UniRef100_Q6L4M2</text></svg>
<svg><path class="g" d="M348 5.5H360M363 5.5H513"/><path class="g1" d="M360 5.5H363"/><use href="#t" x="348"/><use href="#b"/><text x="526" y="8">UniRef100_Q6EN68</text></svg>
<svg><use href="#n"/><path class="c" d="M386 5.5H510"/><use href="#t" x="386"/><use href="#as"/><text x="526" y="8">UniRef100_C6TF30</text></svg>
<svg><path class="c" d="M386 5.5H510"/><use href="#t" x="386"/><use href="#as"/><text x="526" y="8">UniRef100_C6T1T9</text></svg>
<svg><use href="#n"/><path class="c" d="M391 5.5H510"/><use href="#t" x="391"/><use href="#as"/><text x="526" y="8">UniRef100_C5XFB4</text></svg>
<svg><path class="c" d="M391 5.5H510"/><use href="#t" x="391"/><use href="#as"/><text x="526" y="8">UniRef100_B9T3F1</text></svg>
<svg><use href="#n"/><path class="c" d="M391 5.5H510"/><use href="#t" x="391"/><use href="#as"/><text x="526" y="8">UniRef100_B9SE91</text></svg>
<svg><path class="g" d="M305 5.5H326M335 5.5H513"/><path class="g1" d="M326 5.5H335"/><use href="#t" x="305"/><use href="#b"/><text x="526" y="8">UniRef100_B9SAV6</text></svg>
<svg><use href="#n"/><path class="c" d="M391 5.5H510"/><use href="#t" x="391"/><use href="#as"/><text x="526" y="8">UniRef100_B9GT85</text></svg>
<svg><path class="g" d="M337 5.5H351M353 5.5H513"/><path class="g1" d="M351 5.5H353"/><use href="#t" x="337"/><use href="#b"/><text x="526" y="8">UniRef100_B6STB6</text></svg>
<svg><use href="#n"/><path class="c" d="M391 5.5H510"/><use href="#t" x="391"/><use href="#as"/><text x="526" y="8">UniRef100_B4FAH2</text></svg>
<svg><path class="g" d="M348 5.5H359M363 5.5H513"/><path class="g1" d="M359 5.5H363"/><use href="#t" x="348"/><use href="#b"/><text x="526" y="8">UniRef100_B1PI85</text></svg>
<svg><use href="#n"/><path class="g" d="M348 5.5H359M363 5.5H513"/><path class="g1" d="M359 5.5H363"/><use href="#t" x="348"/><use href="#b"/><text x="526" y="8">UniRef100_B1PI84</text></svg>
<svg><path class="c" d="M383 5.5H510"/><use href="#t" x="383"/><use href="#as"/><text x="526" y="8">UniRef100_A9TLL8</text></svg>
<svg><use href="#n"/><path class="c" d="M383 5.5H513"/><use href="#t" x="383"/><use href="#a"/><text x="526" y="8">UniRef100_A9SYB6</text></svg>
<svg><path class="g" d="M331 5.5H343M352 5.5H513"/><path class="g1" d="M343 5.5H352"/><use href="#t" x="331"/><use href="#b"/><text x="526" y="8">UniRef100_A8MRL7</text></svg>
<svg><use href="#n"/><path class="c" d="M391 5.5H510"/><use href="#t" x="391"/><use href="#as"/><text x="526" y="8">UniRef100_A7Q787</text></svg>
<svg><path class="c" d="M391 5.5H510"/><use href="#t" x="391"/><use href="#as"/><text x="526" y="8">UniRef100_A5BUA0</text></svg>
<svg><use href="#n"/><path class="g" d="M340 5.5H351M359 5.5H513"/><path class="g1" d="M351 5.5H359"/><use href="#t" x="340"/><use href="#b"/><text x="526" y="8">UniRef100_A2ZSC9</text></svg>
<svg><path class="g" d="M348 5.5H359M363 5.5H513"/><path class="g1" d="M359 5.5H363"/><use href="#t" x="348"/><use href="#b"/><text x="526" y="8">UniRef100_A2YZF1</text></svg>
<svg><use href="#n"/><path class="g" d="M340 5.5H351M359 5.5H513"/><path class="g1" d="M351 5.5H359"/><use href="#t" x="340"/><use href="#b"/><text x="526" y="8">UniRef100_A2WP25</text></svg>
<svg><path class="g" d="M331 5.5H343M352 5.5H513"/><path class="g1" d="M343 5.5H352"/><use href="#t" x="331"/><use href="#b"/><text x="526" y="8">UniRef100_Q9LUM4-2</text></svg>
<svg><use href="#n"/><path class="g" d="M331 5.5H343M352 5.5H513"/><path class="g1" d="M343 5.5H352"/><use href="#t" x="331"/><use href="#b"/><text x="526" y="8">UniRef100_Q9LUM4</text></svg>
<svg><path class="c" d="M391 5.5H513"/><use href="#t" x="391"/><use href="#a"/><text x="526" y="8">UniRef100_UPI000..</text></svg>
<svg><use href="#n"/><path class="g" d="M337 5.5H348M357 5.5H513"/><path class="g1" d="M348 5.5H357"/><use href="#t" x="337"/><use href="#b"/><text x="526" y="8">UniRef100_Q75UJ4</text></svg>
<svg><path class="c" d="M391 5.5H513"/><use href="#t" x="391"/><use href="#a"/><text x="526" y="8">UniRef100_B9SVL3</text></svg>
<svg><use href="#n"/><path class="g" d="M331 5.5H344M353 5.5H513"/><path class="g1" d="M344 5.5H353"/><use href="#t" x="331"/><use href="#b"/><text x="526" y="8">UniRef100_B9I9P1</text></svg>
<svg><path class="c" d="M386 5.5H510"/><use href="#t" x="386"/><use href="#as"/><text x="526" y="8">UniRef100_B6SUF2</text></svg>
<svg><use href="#n"/><path class="g" d="M337 5.5H513"/><use href="#t" x="337"/><use href="#b"/><text x="526" y="8">UniRef100_B6SHR5</text></svg>
<svg><path class="c" d="M386 5.5H510"/><use href="#t" x="386"/><use href="#as"/><text x="526" y="8">UniRef100_B4FQK2</text></svg>
<svg><use href="#n"/><path class="g" d="M334 5.5H510"/><use href="#t" x="334"/><use href="#bs"/><text x="526" y="8">UniRef100_B3IX36</text></svg>
<svg><path class="c" d="M391 5.5H513"/><use href="#t" x="391"/><use href="#a"/><text x="526" y="8">UniRef100_A7QXY1</text></svg>
<svg><use href="#n"/><path class="c" d="M391 5.5H513"/><use href="#t" x="391"/><use href="#a"/><text x="526" y="8">UniRef100_A5AWM3</text></svg>
<svg><path class="c" d="M383 5.5H510"/><use href="#t" x="383"/><use href="#as"/><text x="526" y="8">UniRef100_A4F248</text></svg>
<svg><use href="#n"/><path class="c" d="M391 5.5H510"/><use href="#t" x="391"/><use href="#as"/><text x="526" y="8">UniRef100_Q9FGF8</text></svg>
<svg><path class="g" d="M348 5.5H357M364 5.5H513"/><path class="g1" d="M357 5.5H364"/><use href="#t" x="348"/><use href="#b"/><text x="526" y="8">UniRef100_Q84XB2</text></svg>
<svg><use href="#n"/><path class="g" d="M340 5.5H350M359 5.5H513"/><path class="g1" d="M350 5.5H359"/><use href="#t" x="340"/><use href="#b"/><text x="526" y="8">UniRef100_Q7Y047</text></svg>
<svg><path class="g" d="M348 5.5H357M364 5.5H513"/><path class="g1" d="M357 5.5H364"/><use href="#t" x="348"/><use href="#b"/><text x="526" y="8">UniRef100_Q6RJ36</text></svg>
<svg><use href="#n"/><path class="c" d="M391 5.5H510"/><use href="#t" x="391"/><use href="#as"/><text x="526" y="8">UniRef100_Q0E0J3</text></svg>
<svg><path class="g" d="M331 5.5H344M353 5.5H513"/><path class="g1" d="M344 5.5H353"/><use href="#t" x="331"/><use href="#b"/><text x="526" y="8">UniRef100_C6TJ94</text></svg>
<svg><use href="#n"/><path class="g" d="M326 5.5H510"/><use href="#t" x="326"/><use href="#bs"/><rect x="350" y="7" width="2" height="3" fill="#ffff80"/><text x="526" y="8">UniRef100_C6TDN1</text></svg>
<svg><path class="c" d="M391 5.5H513"/><use href="#t" x="391"/><use href="#a"/><text x="526" y="8">UniRef100_B9HTT1</text></svg>
<svg><use href="#n"/><path class="c" d="M386 5.5H510"/><use href="#t" x="386"/><use href="#as"/><text x="526" y="8">UniRef100_B9H5M6</text></svg>
<svg><path class="g" d="M348 5.5H513"/><use href="#t" x="348"/><use href="#b"/><text x="526" y="8">UniRef100_B9GMV6</text></svg>
<svg><use href="#n"/><path class="g" d="M348 5.5H357M364 5.5H513"/><path class="g1" d="M357 5.5H364"/><use href="#t" x="348"/><use href="#b"/><text x="526" y="8">UniRef100_B8LFH3</text></svg>
<svg><path class="c" d="M391 5.5H513"/><use href="#t" x="391"/><use href="#a"/><text x="526" y="8">UniRef100_B3H5K8</text></svg>
<svg><use href="#n"/><path class="c" d="M391 5.5H510"/><use href="#t" x="391"/><use href="#as"/><text x="526" y="8">UniRef100_A9T3N0</text></svg>
<svg><path class="c" d="M383 5.5H510"/><use href="#t" x="383"/><use href="#as"/><text x="526" y="8">UniRef100_A7P9J2</text></svg>
<svg><use href="#n"/><path class="c" d="M391 5.5H513"/><use href="#t" x="391"/><use href="#a"/><text x="526" y="8">UniRef100_A4RWQ8</text></svg>
<svg><path class="g" d="M340 5.5H350M359 5.5H513"/><path class="g1" d="M350 5.5H359"/><use href="#t" x="340"/><use href="#b"/><text x="526" y="8">UniRef100_Q6ZDW4</text></svg>
<svg><use href="#n"/><path class="g" d="M348 5.5H513"/><use href="#t" x="348"/><use href="#b"/><text x="526" y="8">UniRef100_A2X5F4</text></svg>
<svg><path class="c" d="M391 5.5H513"/><use href="#t" x="391"/><use href="#a"/><text x="526" y="8">UniRef100_Q8H0T5</text></svg>
<svg><use href="#n"/><path class="g" d="M336 5.5H370"/><path class="c" d="M391 5.5H510"/><polygon points="370,1 375,5.5 370,10" fill="#00a000"/><use href="#t" x="336"/><use href="#t" x="370"/><use href="#t" x="391"/><use href="#as"/><text x="526" y="8">UniRef100_Q5SMZ8</text></svg>
<svg><path class="g" d="M345 5.5H354M362 5.5H513"/><path class="g1" d="M354 5.5H362"/><use href="#t" x="345"/><use href="#b"/><text x="526" y="8">UniRef100_Q6QX54</text></svg>
<svg><use href="#n"/><path class="c" d="M394 5.5H513"/><use href="#t" x="394"/><use href="#a"/><text x="526" y="8">UniRef100_C1EE64</text></svg>
<svg><path class="c" d="M394 5.5H510"/><use href="#t" x="394"/><use href="#as"/><text x="526" y="8">UniRef100_B9HS08</text></svg>
<svg><use href="#n"/><path class="c" d="M391 5.5H510"/><use href="#t" x="391"/><use href="#as"/><text x="526" y="8">UniRef100_B9HGC6</text></svg>
<svg><path class="c" d="M383 5.5H510"/><use href="#t" x="383"/><use href="#as"/><text x="526" y="8">UniRef100_B9H7U8</text></svg>
<svg><use href="#n"/><path class="g" d="M348 5.5H513"/><use href="#t" x="348"/><use href="#b"/><text x="526" y="8">UniRef100_B9GYV0</text></svg>
<svg><path class="g" d="M337 5.5H513"/><use href="#t" x="337"/><use href="#b"/><text x="526" y="8">UniRef100_B4FDY9</text></svg>
<svg><use href="#n"/><path class="c" d="M391 5.5H510"/><use href="#t" x="391"/><use href="#as"/><text x="526" y="8">UniRef100_B3IX37</text></svg>
<svg><path class="c" d="M383 5.5H513"/><use href="#t" x="383"/><use href="#a"/><text x="526" y="8">UniRef100_A9RGE7</text></svg>
<svg><use href="#n"/><path class="c" d="M370 5.5H510"/><use href="#t" x="370"/><use href="#as"/><text x="526" y="8">UniRef100_A9NMA3</text></svg>
<svg><path class="c" d="M383 5.5H513"/><use href="#t" x="383"/><use href="#a"/><text x="526" y="8">UniRef100_Q9FEL0</text></svg>
<svg><use href="#n"/><path class="c" d="M391 5.5H513"/><use href="#t" x="391"/><use href="#a"/><text x="526" y="8">UniRef100_Q94HC9</text></svg>
<svg><path class="g" d="M305 5.5H513"/><use href="#t" x="305"/><use href="#b"/><text x="526" y="8">UniRef100_Q56E95</text></svg>
<svg><use href="#n"/><path class="c" d="M391 5.5H513"/><use href="#t" x="391"/><use href="#a"/><text x="526" y="8">UniRef100_Q338N5</text></svg>
<svg><path class="c" d="M391 5.5H510"/><use href="#t" x="391"/><use href="#as"/><text x="526" y="8">UniRef100_C7J231</text></svg>
<svg><use href="#n"/><path class="g" d="M337 5.5H351M353 5.5H510"/><path class="g1" d="M351 5.5H353"/><use href="#t" x="337"/><use href="#bs"/><text x="526" y="8">UniRef100_C6TNR7</text></svg>
</div>

<svg id="fg" width="640" height="2819"><rect x="512" y="58" width="1" height="2741" fill="#fff"/></svg>
</body></html>
